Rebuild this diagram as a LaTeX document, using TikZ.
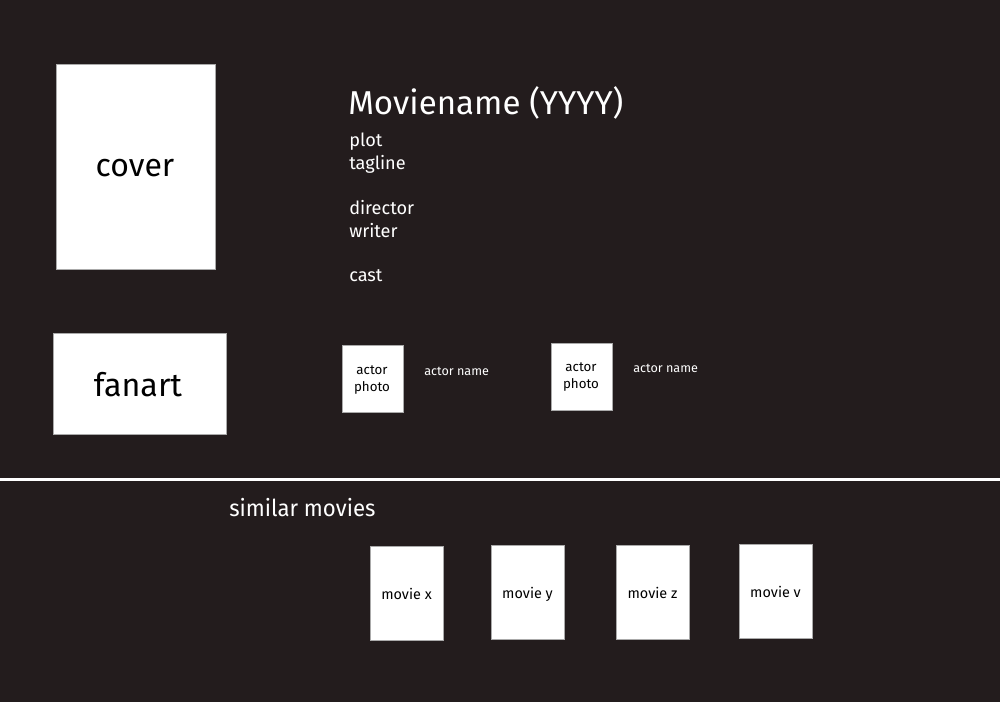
\documentclass[tikz,border=0pt]{standalone}
\usepackage{fontspec}
\setmainfont{Fira Sans}
\definecolor{bg}{RGB}{35,28,29}
\definecolor{edge}{RGB}{170,170,170}
\tikzset{
  card/.style={draw=edge, line width=0.6pt, fill=white, inner sep=0pt},
  lbl/.style={text=white, inner sep=0pt, anchor=base west},
  dark/.style={text=black, inner sep=0pt, anchor=base},
}
\begin{document}
\begin{tikzpicture}[x=0.75pt,y=-0.75pt]
\useasboundingbox (0,0) rectangle (1000,702);
\fill[bg] (0,0) rectangle (1000,702);
% boxes
\draw[card] (56,64) rectangle (215,269);
\draw[card] (53,333) rectangle (226,434);
\draw[card] (342,345) rectangle (403,412);
\draw[card] (551,343) rectangle (612,410);
\draw[card] (370,546) rectangle (443,640);
\draw[card] (491,545) rectangle (564,639);
\draw[card] (616,545) rectangle (689,639);
\draw[card] (739,544) rectangle (812,638);
% box labels
\node[dark, font=\fontsize{24}{28}\selectfont] (cover) at (135,177) {cover};
\node[dark, font=\fontsize{24.2}{28}\selectfont] (fanart) at (138,397) {fanart};
\node[dark, font=\fontsize{10}{12.8}\selectfont, align=center, anchor=center] (ap1) at (372,380) {actor\\photo};
\node[dark, font=\fontsize{10}{12.8}\selectfont, align=center, anchor=center] (ap2) at (581,377) {actor\\photo};
\node[dark, font=\fontsize{10.8}{13}\selectfont] (mx) at (406.5,599) {movie x};
\node[dark, font=\fontsize{10.8}{13}\selectfont] (my) at (527.5,598) {movie y};
\node[dark, font=\fontsize{10.8}{13}\selectfont] (mz) at (652.5,598) {movie z};
\node[dark, font=\fontsize{10.8}{13}\selectfont] (mv) at (775.5,597) {movie v};
% info texts
\node[lbl, font=\fontsize{24.8}{29}\selectfont] (title) at (348,115) {Moviename (YYYY)};
\node[lbl, font=\fontsize{13.6}{16}\selectfont] (plot) at (349,147) {plot};
\node[lbl, font=\fontsize{13.6}{16}\selectfont] (tag) at (349,170) {tagline};
\node[lbl, font=\fontsize{13.6}{16}\selectfont] (dir) at (349,215) {director};
\node[lbl, font=\fontsize{13.6}{16}\selectfont] (wri) at (349,238) {writer};
\node[lbl, font=\fontsize{13.6}{16}\selectfont] (cast) at (349,282) {cast};
\node[lbl, font=\fontsize{9.45}{11}\selectfont] (an1) at (424,375) {actor name};
\node[lbl, font=\fontsize{9.45}{11}\selectfont] (an2) at (633,373) {actor name};
% separator
\coordinate (sl) at (0,479.5);
\coordinate (sr) at (1000,479.5);
\draw[white, line width=2.6pt] (sl) -- (sr);
\node[lbl, font=\fontsize{17.5}{20}\selectfont, xscale=0.95] (sim) at (229,516) {similar movies};
\end{tikzpicture}
\end{document}
